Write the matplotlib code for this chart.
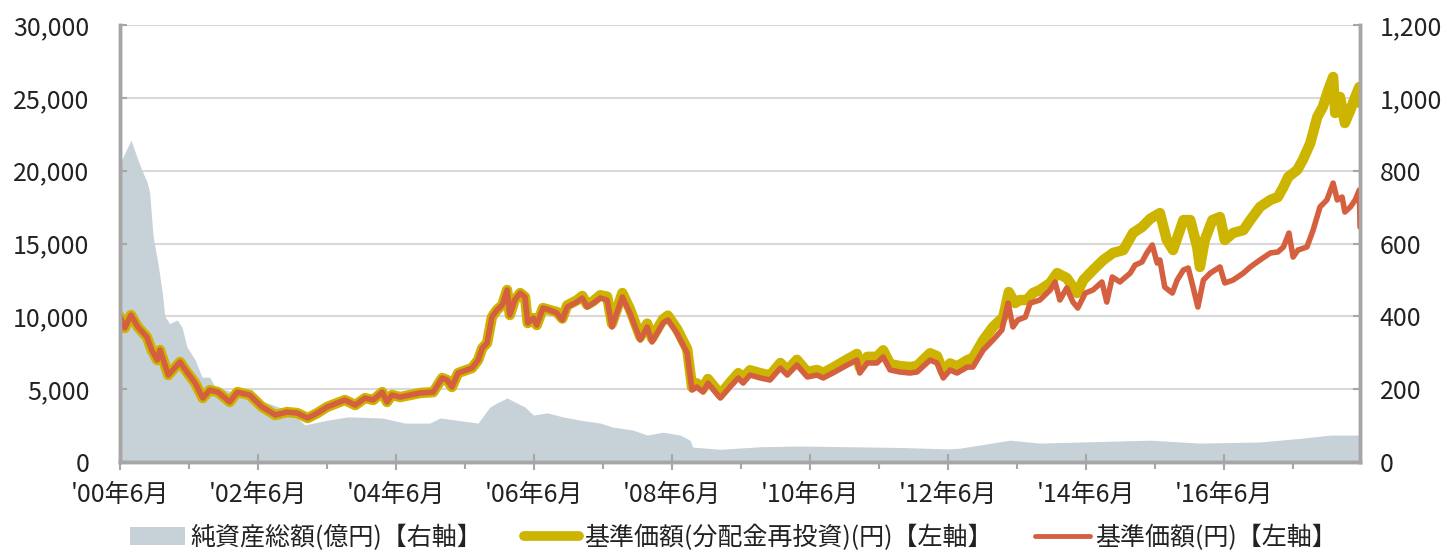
import matplotlib
matplotlib.use("Agg")
import matplotlib.pyplot as plt
from matplotlib.patches import Patch
from matplotlib.lines import Line2D
from matplotlib.ticker import FuncFormatter, FixedLocator

plt.rcParams['font.family'] = ['Noto Sans CJK JP', 'DejaVu Sans']

# ---- data (decimal years) ----
nav_dates = [2000.50, 2000.57, 2000.66, 2000.76, 2000.89, 2000.96, 2001.04, 2001.08, 2001.20, 2001.37,
             2001.47, 2001.59, 2001.70, 2001.80, 2001.92, 2002.09, 2002.20, 2002.38, 2002.56, 2002.75,
             2002.92, 2003.07, 2003.22, 2003.36, 2003.50, 2003.76, 2003.91, 2004.05, 2004.17, 2004.30,
             2004.37, 2004.44, 2004.56, 2004.85, 2005.04, 2005.17, 2005.24, 2005.31, 2005.40, 2005.60,
             2005.69, 2005.75, 2005.82, 2005.89, 2005.96, 2006.04, 2006.11, 2006.15, 2006.22, 2006.30,
             2006.37, 2006.41, 2006.49, 2006.54, 2006.63, 2006.73, 2006.83, 2006.91, 2006.98, 2007.12,
             2007.20, 2007.27, 2007.36, 2007.46, 2007.56, 2007.63, 2007.78, 2007.89, 2008.04, 2008.14,
             2008.21, 2008.37, 2008.44, 2008.57, 2008.72, 2008.79, 2008.86, 2008.95, 2009.02, 2009.20,
             2009.34, 2009.46, 2009.53, 2009.63, 2009.78, 2009.92, 2010.07, 2010.17, 2010.31, 2010.46,
             2010.60, 2010.69, 2010.83, 2011.04, 2011.18, 2011.22, 2011.33, 2011.47, 2011.56, 2011.66,
             2011.80, 2011.95, 2012.05, 2012.24, 2012.34, 2012.43, 2012.53, 2012.63, 2012.78, 2012.86,
             2013.01, 2013.15, 2013.28, 2013.37, 2013.44, 2013.51, 2013.62, 2013.69, 2013.83, 2013.98,
             2014.05, 2014.12, 2014.22, 2014.31, 2014.38, 2014.49, 2014.60, 2014.73, 2014.80, 2014.88,
             2014.99, 2015.14, 2015.21, 2015.31, 2015.38, 2015.46, 2015.53, 2015.57, 2015.64, 2015.75,
             2015.82, 2015.91, 2015.98, 2016.05, 2016.12, 2016.20, 2016.30, 2016.44, 2016.51, 2016.63,
             2016.78, 2016.88, 2017.02, 2017.17, 2017.28, 2017.36, 2017.44, 2017.50, 2017.57, 2017.70,
             2017.79, 2017.89, 2017.99, 2018.08, 2018.14, 2018.21, 2018.25, 2018.33, 2018.40, 2018.46,
             2018.47]
nav_values = [9975, 9200, 10090, 9270, 8580, 7690, 7000, 7690, 5970, 6870,
              6180, 5420, 4390, 4940, 4800, 4120, 4800, 4600, 3780, 3230,
              3430, 3360, 3020, 3360, 3780, 4260, 3910, 4390, 4260, 4800,
              4120, 4600, 4460, 4740, 4800, 5770, 5630, 5150, 6110, 6450,
              7000, 7820, 8170, 9950, 10430, 10780, 11810, 10090, 11120, 11600,
              11330, 9540, 9880, 9400, 10570, 10430, 10230, 9750, 10640, 10980,
              11260, 10640, 10910, 11260, 11120, 9270, 11330, 10230, 8370, 9270,
              8240, 9540, 9750, 8860, 7480, 4940, 5150, 4800, 5420, 4390,
              5150, 5770, 5420, 5970, 5770, 5630, 6450, 5970, 6660, 5840,
              5970, 5770, 6110, 6660, 7000, 6110, 6800, 6800, 7210, 6320,
              6180, 6110, 6180, 7000, 6800, 5770, 6320, 6110, 6520, 6520,
              7690, 8370, 9060, 10910, 9270, 9750, 9950, 10910, 11120, 11810,
              12360, 11120, 11950, 10980, 10570, 11600, 11810, 12360, 10980, 12700,
              12360, 12970, 13520, 13730, 14350, 14900, 13660, 13870, 12010, 11600,
              12490, 13180, 13320, 12010, 10640, 12490, 12970, 13390, 12290, 12490,
              12970, 13390, 13870, 14350, 14420, 14760, 15720, 14070, 14550, 14760,
              15920, 17510, 17990, 19150, 17990, 18190, 17160, 17510, 17990, 18670,
              16130]

reinv_dates = [2000.50, 2000.57, 2000.66, 2000.76, 2000.89, 2000.96, 2001.04, 2001.08, 2001.20, 2001.37,
               2001.47, 2001.59, 2001.70, 2001.80, 2001.92, 2002.09, 2002.20, 2002.38, 2002.56, 2002.75,
               2002.92, 2003.07, 2003.22, 2003.36, 2003.50, 2003.76, 2003.91, 2004.05, 2004.17, 2004.30,
               2004.37, 2004.44, 2004.56, 2004.85, 2005.04, 2005.17, 2005.24, 2005.31, 2005.40, 2005.60,
               2005.69, 2005.75, 2005.82, 2005.89, 2005.96, 2006.04, 2006.11, 2006.15, 2006.22, 2006.30,
               2006.37, 2006.41, 2006.49, 2006.54, 2006.63, 2006.73, 2006.83, 2006.91, 2006.98, 2007.12,
               2007.20, 2007.27, 2007.36, 2007.46, 2007.56, 2007.63, 2007.78, 2007.89, 2008.04, 2008.14,
               2008.21, 2008.37, 2008.44, 2008.57, 2008.72, 2008.79, 2008.86, 2008.95, 2009.02, 2009.20,
               2009.34, 2009.46, 2009.53, 2009.63, 2009.78, 2009.92, 2010.07, 2010.17, 2010.31, 2010.46,
               2010.60, 2010.69, 2010.83, 2011.04, 2011.18, 2011.22, 2011.33, 2011.47, 2011.56, 2011.66,
               2011.80, 2011.95, 2012.05, 2012.24, 2012.34, 2012.43, 2012.53, 2012.63, 2012.78, 2012.86,
               2013.01, 2013.15, 2013.30, 2013.38, 2013.47, 2013.54, 2013.64, 2013.73, 2013.83, 2013.98,
               2014.08, 2014.22, 2014.37, 2014.46, 2014.60, 2014.75, 2014.89, 2015.04, 2015.18, 2015.31,
               2015.43, 2015.57, 2015.67, 2015.76, 2015.91, 2016.01, 2016.11, 2016.15, 2016.22, 2016.33,
               2016.44, 2016.51, 2016.63, 2016.78, 2016.88, 2017.02, 2017.17, 2017.28, 2017.36, 2017.43,
               2017.56, 2017.64, 2017.75, 2017.85, 2017.93, 2018.01, 2018.08, 2018.11, 2018.18, 2018.25,
               2018.33, 2018.40, 2018.46, 2018.47]
reinv_values = [9975, 9200, 10090, 9270, 8580, 7690, 7000, 7690, 5970, 6870,
                6180, 5420, 4390, 4940, 4800, 4120, 4800, 4600, 3780, 3230,
                3430, 3360, 3020, 3360, 3780, 4260, 3910, 4390, 4260, 4800,
                4120, 4600, 4460, 4740, 4800, 5770, 5630, 5150, 6110, 6450,
                7000, 7820, 8170, 9950, 10430, 10780, 11810, 10090, 11120, 11600,
                11330, 9540, 9880, 9400, 10570, 10430, 10300, 9850, 10750, 11100,
                11400, 10800, 11050, 11450, 11350, 9500, 11600, 10500, 8600, 9500,
                8500, 9800, 10050, 9150, 7750, 5150, 5400, 5050, 5700, 4650,
                5450, 6100, 5750, 6300, 6100, 5950, 6800, 6300, 7020, 6180,
                6320, 6120, 6470, 7050, 7420, 6500, 7220, 7230, 7670, 6730,
                6590, 6520, 6600, 7470, 7270, 6180, 6770, 6560, 7000, 7140,
                8370, 9270, 9950, 11670, 10910, 11120, 11120, 11600, 11810, 12290,
                12970, 12630, 11600, 12490, 13180, 13870, 14350, 14550, 15720, 16130,
                16700, 17090, 15240, 14550, 16610, 16610, 14760, 13390, 15240, 16610,
                16820, 15240, 15720, 15920, 16610, 17510, 17990, 18190, 18880, 19570,
                20050, 20730, 21900, 23680, 24370, 25540, 26430, 23960, 25060, 23270,
                24160, 25060, 25740, 24640]

asset_dates = [2000.50, 2000.57, 2000.66, 2000.75, 2000.82, 2000.89, 2000.93, 2000.98, 2001.05, 2001.11,
               2001.15, 2001.22, 2001.33, 2001.40, 2001.47, 2001.59, 2001.69, 2001.80, 2001.88, 2002.09,
               2002.38, 2002.67, 2002.96, 2003.18, 2003.51, 2003.80, 2004.30, 2004.63, 2004.99, 2005.14,
               2005.57, 2005.69, 2005.86, 2005.96, 2006.11, 2006.25, 2006.37, 2006.49, 2006.69, 2006.92,
               2007.17, 2007.46, 2007.64, 2007.93, 2008.14, 2008.37, 2008.62, 2008.76, 2008.80, 2009.20,
               2009.78, 2010.36, 2011.08, 2011.80, 2012.50, 2012.67, 2013.40, 2013.83, 2014.41, 2015.43,
               2016.15, 2017.02, 2017.60, 2018.04, 2018.47]
asset_values = [821, 848, 884, 835, 800, 770, 740, 620, 546, 470,
                400, 380, 390, 370, 316, 280, 233, 233, 206, 195,
                180, 160, 140, 102, 115, 124, 121, 107, 107, 121,
                110, 107, 151, 162, 176, 162, 151, 129, 135, 124,
                115, 107, 96, 88, 74, 82, 74, 60, 41, 35,
                42, 44, 42, 40, 36, 38, 60, 52, 55, 60,
                52, 55, 65, 74, 74]

major_ticks = [2000.5, 2002.5, 2004.5, 2006.5, 2008.5, 2010.5, 2012.5, 2014.5, 2016.5]
major_labels = ["'00年6月", "'02年6月", "'04年6月", "'06年6月", "'08年6月",
                "'10年6月", "'12年6月", "'14年6月", "'16年6月"]
minor_ticks = [2001.5, 2003.5, 2005.5, 2007.5, 2009.5, 2011.5, 2013.5, 2015.5, 2017.5]

legend_labels = ["純資産総額(億円)【右軸】", "基準価額(分配金再投資)(円)【左軸】", "基準価額(円)【左軸】"]

# ---- styling ----
c_area = '#c7d1d8'
c_gold = '#cdb400'
c_red = '#d4603f'
c_spine = '#a6a6a6'
c_grid = '#d9d9d9'
c_text = '#222222'
fs = 18

fig = plt.figure(figsize=(14.47, 5.54), dpi=100)
ax = fig.add_axes([0.0829, 0.166, 0.857, 0.7889])
ax2 = ax.twinx()
ax.set_zorder(ax2.get_zorder() + 1)
ax.patch.set_visible(False)

# area (right axis)
ax2.fill_between(asset_dates, asset_values, 0, color=c_area, lw=0, zorder=2)
ax2.set_ylim(0, 1200)
ax2.set_yticks(range(0, 1201, 200))
ax2.yaxis.set_major_formatter(FuncFormatter(lambda v, p: f"{int(v):,}"))
ax2.grid(axis='y', color=c_grid, lw=1.5, zorder=1)
ax2.set_axisbelow(True)

# lines (left axis)
ax.plot(reinv_dates, reinv_values, color=c_gold, lw=7.5, solid_capstyle='round', solid_joinstyle='round')
ax.plot(nav_dates, nav_values, color=c_red, lw=4, solid_capstyle='round', solid_joinstyle='round')
ax.set_ylim(0, 30000)
ax.set_yticks(range(0, 30001, 5000))
ax.yaxis.set_major_formatter(FuncFormatter(lambda v, p: f"{int(v):,}"))
ax.set_xlim(2000.5, 2018.47)
ax.xaxis.set_major_locator(FixedLocator(major_ticks))
ax.set_xticklabels(major_labels)
ax.xaxis.set_minor_locator(FixedLocator(minor_ticks))

for a in (ax, ax2):
    for s in a.spines.values():
        s.set_color(c_spine)
        s.set_linewidth(2.5)
    a.spines['top'].set_visible(False)

ax.tick_params(axis='y', direction='in', length=5, width=1.5, color=c_spine,
               labelsize=fs, pad=22, labelcolor=c_text)
ax2.tick_params(axis='y', direction='in', length=5, width=1.5, color=c_spine,
                labelsize=fs, pad=14, labelcolor=c_text)
ax.tick_params(axis='x', which='major', direction='inout', length=12, width=1.5,
               color=c_spine, labelsize=fs, pad=8, labelcolor=c_text)
ax.tick_params(axis='x', which='minor', direction='out', length=5, width=1.5, color=c_spine)

handles = [Patch(facecolor=c_area, edgecolor='none'),
           Line2D([], [], color=c_gold, lw=7, solid_capstyle='round'),
           Line2D([], [], color=c_red, lw=3.5, solid_capstyle='round')]
fig.legend(handles, legend_labels, loc='lower center', bbox_to_anchor=(0.507, -0.035),
           ncol=3, frameon=False, fontsize=fs, handlelength=2.2, handletextpad=0.2,
           columnspacing=1.7, labelcolor=c_text)

fig.savefig('out.png', dpi=100)
